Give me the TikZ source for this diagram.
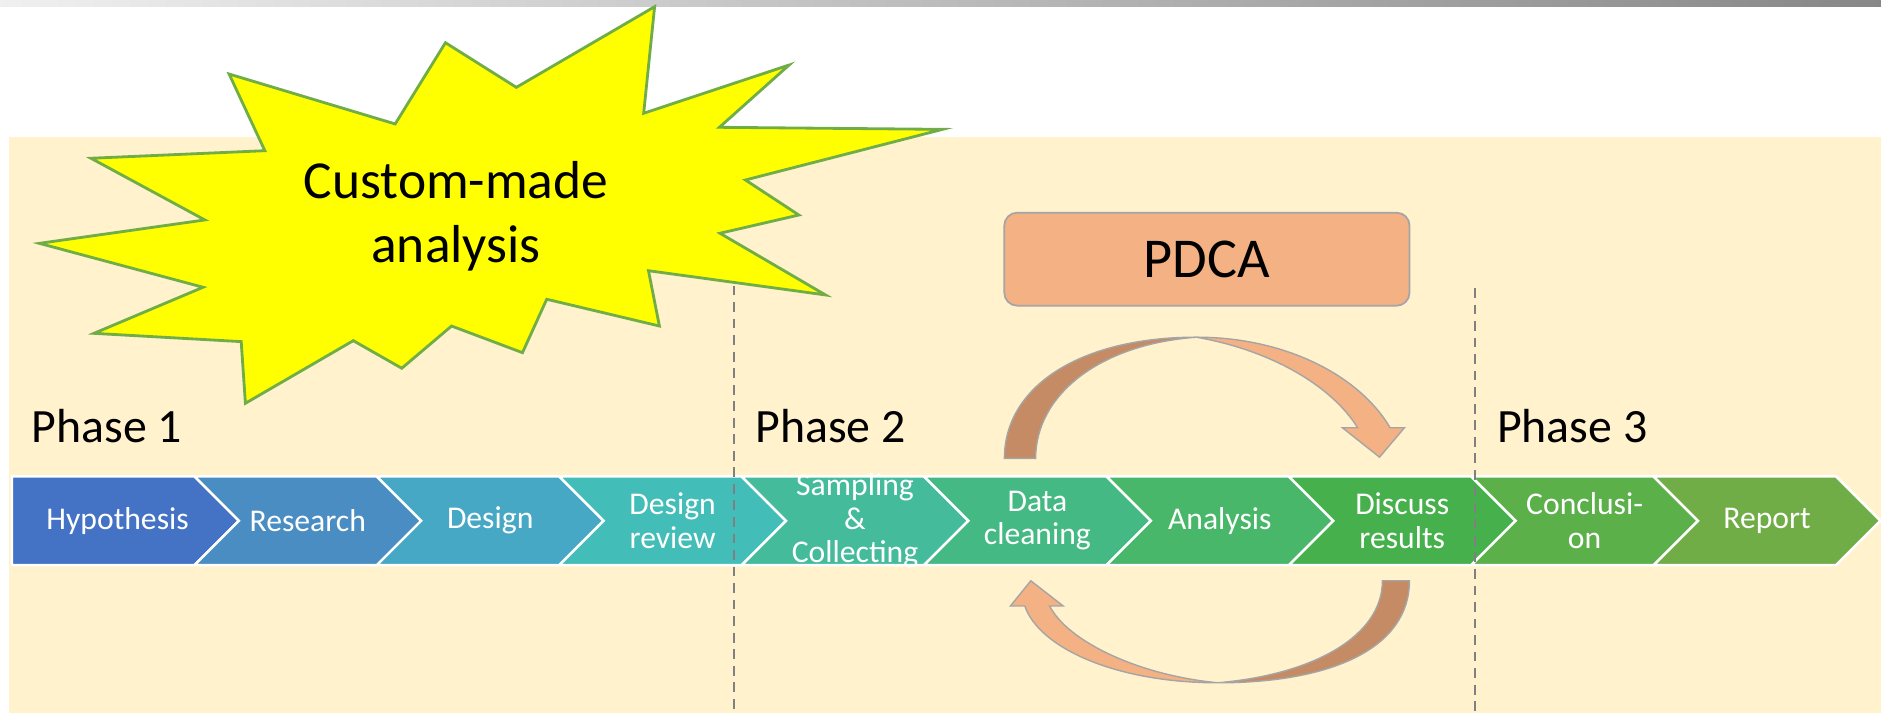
\documentclass[tikz,border=0pt]{standalone}
\usepackage{fontspec}
\setmainfont{Carlito}
\definecolor{bgcream}{HTML}{FFF2CC}
\definecolor{burstyellow}{HTML}{FFFF00}
\definecolor{burstgreen}{HTML}{70AD47}
\definecolor{pdcaorange}{HTML}{F4B183}
\definecolor{arrowbrown}{HTML}{C48B65}
\definecolor{edgegray}{HTML}{A5A5A5}
\definecolor{sepgray}{HTML}{808080}
\definecolor{chevA}{HTML}{4472C4}
\definecolor{chevB}{HTML}{4A8DC3}
\definecolor{chevC}{HTML}{46A8C4}
\definecolor{chevD}{HTML}{43BDB8}
\definecolor{chevE}{HTML}{44BB9A}
\definecolor{chevF}{HTML}{45B984}
\definecolor{chevG}{HTML}{49B76A}
\definecolor{chevH}{HTML}{46B14C}
\definecolor{chevI}{HTML}{5BB04A}
\definecolor{chevJ}{HTML}{70AD47}

\begin{document}
\begin{tikzpicture}[x=0.012cm,y=-0.012cm,
  steplbl/.style={text=white,font=\fontsize{9}{9.5}\selectfont,align=center,inner sep=0pt},
  phase/.style={anchor=base west,inner sep=0pt,font=\fontsize{13.6}{16}\selectfont},
  sep/.style={sepgray,dashed,line width=0.6pt,dash pattern=on 2.8pt off 1.9pt},
  arrowdark/.style={fill=arrowbrown,draw=edgegray,line width=0.4pt},
  arrowlight/.style={fill=pdcaorange,draw=edgegray,line width=0.4pt}]

% page and background
\useasboundingbox (0,0) rectangle (1567.5,594);
\shade[left color=black!6,right color=black!47] (0,0) rectangle (1567.5,5.6);
\fill[bgcream] (7.7,114) rectangle (1567.5,594);

% process chevrons
\foreach \c/\t [count=\i from 0] in {chevA/Hypothesis,chevB/Research,chevC/Design,
    chevD/{Design\\review},chevE/{Sampling\\\&\\Collecting},chevF/{Data\\cleaning},
    chevG/Analysis,chevH/{Discuss\\results},chevI/{Conclusi-\\on},chevJ/Report} {
  \pgfmathsetmacro\lx{10+152*\i}
  \pgfmathsetmacro\notch{\i==0 ? 0 : 37}
  \pgfmathsetmacro\tx{\i==0 ? 98 : \lx+94.5}
  \fill[\c,draw=white,line width=0.7pt] (\lx,397) -- (\lx+152,397) -- (\lx+189,434)
    -- (\lx+152,471) -- (\lx,471) -- (\lx+\notch,434) -- cycle;
  \node[steplbl] (chev\i) at (\tx,434) {\t};
}

% phase borders
\draw[sep] (612,238) -- (612,594);
\draw[sep] (1229,240) -- (1229,594);

% PDCA loop arrows
\draw[arrowdark] (837,382) .. controls (837,322) and (900,281) .. (997,281)
  .. controls (915,287) and (863,330) .. (863,382) -- cycle;
\draw[arrowlight] (997,281) .. controls (1070,281) and (1132,312) .. (1158.5,356.5)
  -- (1170.3,356.5) -- (1149.6,381) -- (1118.7,356.5) -- (1131.4,356.5)
  .. controls (1110,322) and (1060,292) .. (997,281) -- cycle;
\draw[arrowdark] (1174.5,484) .. controls (1174.5,540) and (1110,569) .. (1015,569)
  .. controls (1095,562) and (1152,530) .. (1152,484) -- cycle;
\draw[arrowlight] (1015,569) .. controls (930,569) and (866,540) .. (854,505)
  -- (842,505) -- (859,484) -- (886,505) -- (874.7,505)
  .. controls (890,535) and (950,563) .. (1015,569) -- cycle;

\node[fill=pdcaorange,draw=edgegray,line width=0.5pt,rounded corners=0.13cm,
  minimum width=4.05cm,minimum height=0.93cm,font=\fontsize{16}{19}\selectfont]
  (pdca) at (1005.75,216) {PDCA};

% starburst
\draw[fill=burstyellow,draw=burstgreen,line width=0.8pt,line join=miter]
  (545.5,5.6) -- (536.4,94.4) -- (657.6,54.2) -- (599.5,106.1) -- (785.4,107.8)
  -- (621.2,150) -- (665.7,179.2) -- (600,194.4) -- (687.9,245.8) -- (540.4,225.6)
  -- (549.5,271.7) -- (455.6,249.4) -- (435.4,293.9) -- (376.3,271.7) -- (334.8,306.9)
  -- (294.4,283.9) -- (204.5,336.1) -- (201,284.7) -- (78.3,277.8) -- (169.2,239.4)
  -- (32.8,202.8) -- (170.7,183.3) -- (75.8,131.9) -- (220.7,125.6) -- (190.9,61.7)
  -- (329.3,103.3) -- (371.2,35.6) -- (430.3,72.8) -- cycle;
\node[align=center,font=\fontsize{15.2}{18.3}\selectfont] (custom) at (380,180)
  {Custom-made\\analysis};

\node[phase] (phase1) at (26,369) {Phase 1};
\node[phase] (phase2) at (629,369) {Phase 2};
\node[phase] (phase3) at (1247,369) {Phase 3};
\end{tikzpicture}
\end{document}
